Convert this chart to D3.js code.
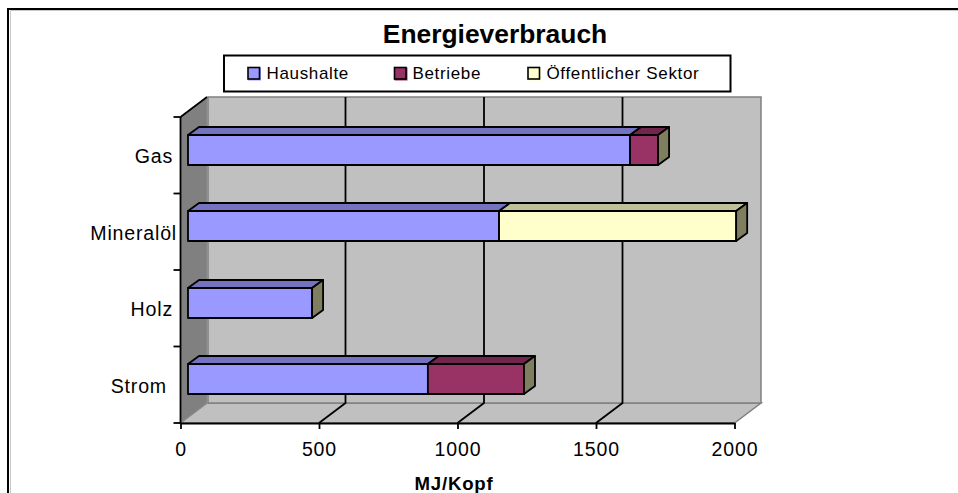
<!DOCTYPE html>
<html><head><meta charset="utf-8">
<script src="https://cdn.jsdelivr.net/npm/d3@7/dist/d3.min.js"></script>
<style>html,body{margin:0;padding:0;background:#fff;overflow:hidden}svg{display:block}text{font-family:"Liberation Sans",Arial,sans-serif;fill:#000}</style>
</head><body><svg id="c" width="958" height="493"></svg>
<script>
const categories = ["Gas","Mineralöl","Holz","Strom"];
const seriesNames = ["Haushalte","Betriebe","Öffentlicher Sektor"];
const haushalte = [1596,1123,448,866];
const betriebe = [101,0,0,347];
const oeffentlich = [0,856,0,0];
const tickValues = [0,500,1000,1500,2000];
const fills = ["#9999ff","#993366","#ffffcc"];
const topFills = ["#7373bf","#73264d","#bfbf99"];
const sideFill = "#7f7f60";

const svg = d3.select("#c");
const x = d3.scaleLinear().domain([0,2000]).range([180.5,734.5]);
const y = d3.scaleBand().domain(categories).range([117,423]);
const depth = {dx:26.5, dy:-20};
const barDepth = {dx:11, dy:-8};
const barShift = {dx:7.5, dy:-5};
const barH = 30;
const poly = pts => pts.map(p=>p.join(",")).join(" ");

// frame (no right edge in the reference, runs off the window)
svg.append("path").attr("d","M10.5 500V10.5H958").attr("fill","none").attr("stroke","#c8c8c8").attr("stroke-width",1);
svg.append("path").attr("d","M8 500V9H958").attr("fill","none").attr("stroke","#000").attr("stroke-width",2);

// floor
const [x0,x1]=x.range(), [yT,yB]=[y.range()[0],y.range()[1]];
svg.append("polygon").attr("points",poly([[x0,yB],[x0+depth.dx,yB+depth.dy],[x1+depth.dx,yB+depth.dy],[x1,yB]])).attr("fill","#c0c0c0").attr("stroke","#808080").attr("stroke-width",1.5);
// left wall
svg.append("polygon").attr("points",poly([[x0,yT],[x0+depth.dx,yT+depth.dy],[x0+depth.dx,yB+depth.dy],[x0,yB]])).attr("fill","#808080").attr("stroke","#8c8c8c").attr("stroke-width",1);
// back wall
svg.append("rect").attr("x",x0+depth.dx).attr("y",yT+depth.dy).attr("width",x1-x0).attr("height",yB-yT).attr("fill","#c0c0c0");
svg.append("path").attr("d",`M${x0+depth.dx+1} ${yB+depth.dy}H${x1+depth.dx}V${yT+depth.dy}H${x0+depth.dx+1}V${yB+depth.dy}`).attr("fill","none").attr("stroke","#808080").attr("stroke-width",1.5);

// gridlines
tickValues.slice(1,-1).forEach(v=>{
  svg.append("path").attr("d",`M${x(v)} ${yB}L${x(v)+depth.dx} ${yB+depth.dy}V${yT+depth.dy}`).attr("fill","none").attr("stroke","#000").attr("stroke-width",1.8);
});

// bars
const outline = g => g.attr("stroke","#000").attr("stroke-width",1.8).attr("stroke-linejoin","round");
const barScale = v => x(v)+barShift.dx;
categories.forEach((c,i)=>{
  const vals=[haushalte[i],betriebe[i],oeffentlich[i]];
  const yTop=Math.floor(y(c)+y.bandwidth()/2+barShift.dy-barH/2), yBot=yTop+barH;
  let cum=0, last=0;
  vals.forEach((v,s)=>{
    if(!v) return;
    const a=barScale(cum), b=barScale(cum+v);
    svg.append("polygon").attr("points",poly([[a,yTop],[a+barDepth.dx,yTop+barDepth.dy],[b+barDepth.dx,yTop+barDepth.dy],[b,yTop]])).attr("fill",topFills[s]).call(outline);
    svg.append("rect").attr("x",a).attr("y",yTop).attr("width",b-a).attr("height",barH).attr("fill",fills[s]).call(outline);
    cum+=v; last=b;
  });
  svg.append("polygon").attr("points",poly([[last,yTop],[last+barDepth.dx,yTop+barDepth.dy],[last+barDepth.dx,yBot+barDepth.dy],[last,yBot]])).attr("fill",sideFill).call(outline);
});

// axes
const gx=svg.append("g").attr("transform",`translate(0,${yB})`).call(d3.axisBottom(x).tickValues(tickValues).tickFormat(d3.format("d")).tickSize(6).tickSizeOuter(0).tickPadding(10));
gx.select(".domain").attr("stroke-width",1.8).attr("stroke","#000");
gx.selectAll(".tick line").attr("stroke-width",1.8).attr("stroke","#000");
gx.selectAll("text").attr("font-size",19.5).attr("letter-spacing",0.9).style("font-family",'"Liberation Sans",Arial,sans-serif').attr("dy",null).attr("y",33).attr("fill","#000");
const yAxisEdges=svg.append("g");
const yTicks=[...categories.map(c=>y(c)),yB];
yAxisEdges.append("line").attr("x1",x0).attr("x2",x0).attr("y1",yT).attr("y2",yB).attr("stroke","#000").attr("stroke-width",1.8);
yTicks.forEach(t=>yAxisEdges.append("line").attr("x1",x0-7).attr("x2",x0).attr("y1",t).attr("y2",t).attr("stroke","#000").attr("stroke-width",1.8));
const labelRight = {"Gas":173,"Mineralöl":177,"Holz":173,"Strom":167};
categories.forEach(c=>svg.append("text").attr("x",labelRight[c]).attr("y",y(c)+y.bandwidth()/2+8).attr("text-anchor","end").attr("font-size",19.6).attr("letter-spacing",0.8).text(c));
svg.append("line").attr("x1",x0).attr("y1",yT).attr("x2",x0+depth.dx).attr("y2",yT+depth.dy).attr("stroke","#000").attr("stroke-width",1.8);

// titles
svg.append("text").attr("x",495).attr("y",43).attr("text-anchor","middle").attr("font-size",26.4).attr("font-weight","bold").text("Energieverbrauch");
svg.append("text").attr("x",454).attr("y",489.5).attr("text-anchor","middle").attr("font-size",18.6).attr("letter-spacing",0.8).attr("font-weight","bold").text("MJ/Kopf");

// legend
svg.append("rect").attr("x",224).attr("y",55.5).attr("width",506.5).attr("height",36).attr("fill","#fff").attr("stroke","#000").attr("stroke-width",2);
const lx=[248,394.5,528];
const tx=[266.5,412.5,546.5];
seriesNames.forEach((n,i)=>{
  svg.append("rect").attr("x",lx[i]).attr("y",67.5).attr("width",13).attr("height",13).attr("fill",fills[i]);
  svg.append("rect").attr("x",lx[i]).attr("y",67.5).attr("width",11.5).attr("height",11.5).attr("fill","none").attr("stroke","#000").attr("stroke-width",1.6);
  svg.append("text").attr("x",tx[i]).attr("y",78.5).attr("font-size",17).attr("letter-spacing",0.65).text(n);
});
</script></body></html>
